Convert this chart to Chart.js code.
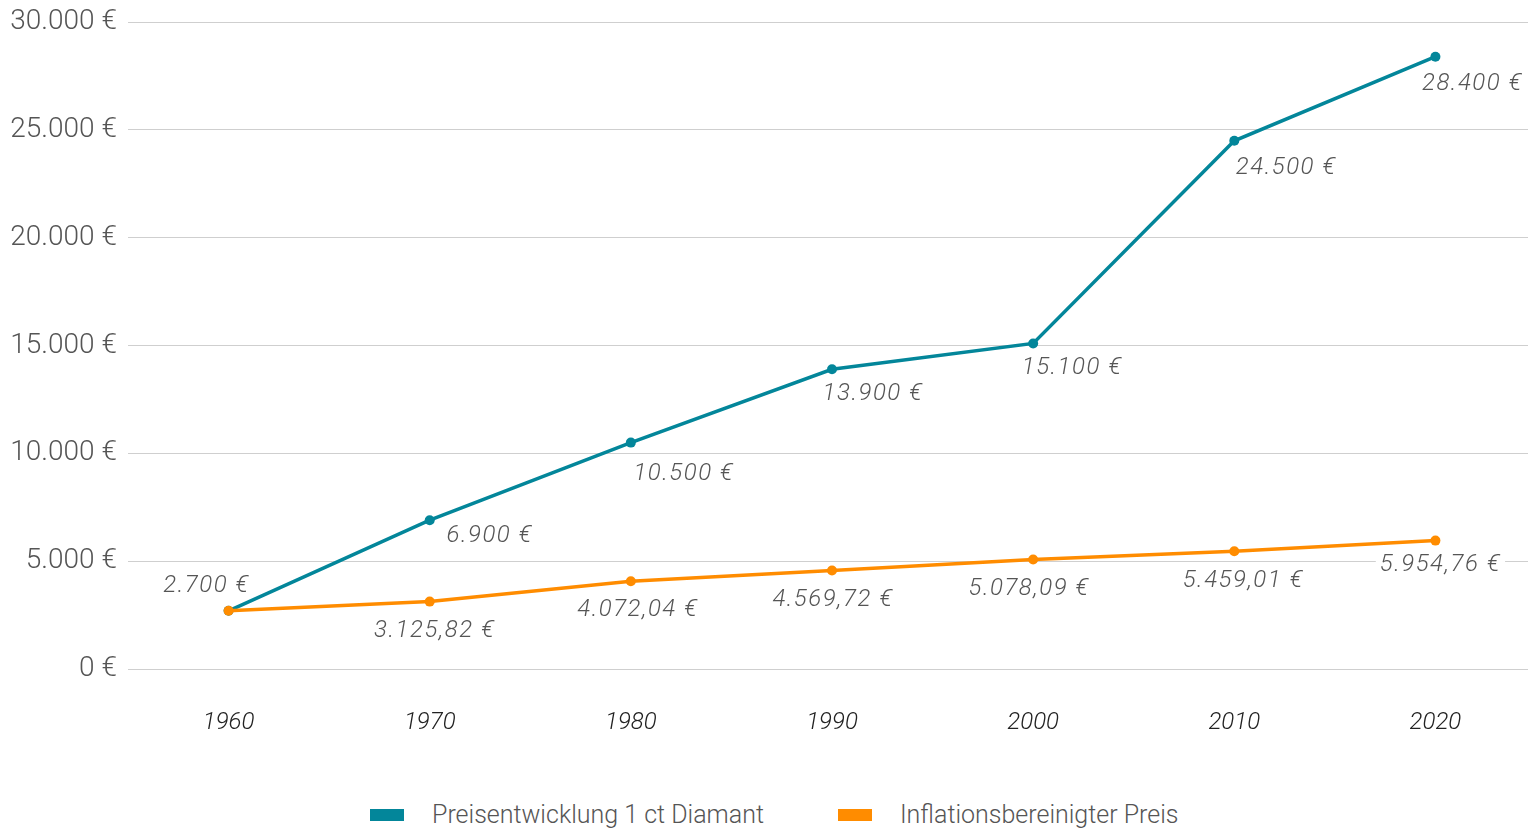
<!DOCTYPE html>
<html lang="de">
<head>
<meta charset="utf-8">
<title>Preisentwicklung Diamant</title>
<script src="https://cdn.jsdelivr.net/npm/chart.js@4/dist/chart.umd.min.js"></script>
<style>
    html, body {
        margin: 0;
        padding: 0;
        background: #fff;
        overflow: hidden;
    }
    .wrap {
        position: relative;
        width: 1528px;
        height: 830px;
        overflow: hidden;
    }
    #priceChart {
        position: absolute;
        left: 0;
        top: 0;
    }
    .legend {
        position: absolute;
        top: 800px;
        left: 370px;
        display: flex;
        align-items: center;
        font-family: "Roboto", sans-serif;
        font-weight: 300;
        font-size: 25px;
        color: #555;
        white-space: nowrap;
    }
    .legend .box {
        display: inline-block;
        width: 34px;
        height: 12px;
        margin-right: 28px;
    }
    .legend .item {
        display: flex;
        align-items: center;
        margin-right: 74px;
    }
</style>
</head>
<body>
<div class="wrap">
    <!-- die Zeichenfläche reicht rechts etwas über den Bildrand hinaus -->
    <canvas id="priceChart" width="1541" height="760"></canvas>
    <div class="legend" id="legend"></div>
</div>
<script>
// Daten
const years = ['1960', '1970', '1980', '1990', '2000', '2010', '2020'];
const diamondPrice = [2700, 6900, 10500, 13900, 15100, 24500, 28400];
const inflationPrice = [2700, 3125.82, 4072.04, 4569.72, 5078.09, 5459.01, 5954.76];
const diamondLabels = ['2.700 €', '6.900 €', '10.500 €', '13.900 €', '15.100 €', '24.500 €', '28.400 €'];
const inflationLabels = [null, '3.125,82 €', '4.072,04 €', '4.569,72 €', '5.078,09 €', '5.459,01 €', '5.954,76 €'];
const yTicks = [0, 5000, 10000, 15000, 20000, 25000, 30000];
const seriesNames = ['Preisentwicklung 1 ct Diamant', 'Inflationsbereinigter Preis'];

const TEAL = '#03869a';
const ORANGE = '#ff8c00';

// Beschriftungen der Punkte (Versatz relativ zum Punkt, Mitte des Textes)
const labelOffsets = [
    { dx: [-22, 60, 53, 41, 39, 52, 37], dy: [-26, 15, 30, 24, 24, 26, 26] },
    { dx: [0, 5, 7, 1, -4, 9, 5], dy: [0, 28, 28, 29, 28, 29, 23] }
];

const pointLabelPlugin = {
    id: 'pointLabels',
    afterDatasetsDraw(chart) {
        const ctx = chart.ctx;
        ctx.save();
        ctx.font = 'italic 300 24px Roboto, sans-serif';
        ctx.letterSpacing = '1.5px';
        ctx.textAlign = 'center';
        ctx.textBaseline = 'middle';
        chart.data.datasets.forEach((ds, di) => {
            const meta = chart.getDatasetMeta(di);
            meta.data.forEach((pt, i) => {
                const text = ds.pointLabels[i];
                if (!text) return;
                const x = pt.x + labelOffsets[di].dx[i];
                const y = pt.y + labelOffsets[di].dy[i];
                const w = ctx.measureText(text).width;
                // weißer Hintergrund unterbricht die Gitterlinie
                ctx.fillStyle = '#fff';
                ctx.fillRect(x - w / 2 - 4, y - 12, w + 8, 24);
                ctx.fillStyle = '#555';
                ctx.fillText(text, x, y + 1);
            });
        });
        ctx.restore();
    }
};

const ctx = document.getElementById('priceChart').getContext('2d');
const priceChart = new Chart(ctx, {
    type: 'line',
    data: {
        labels: years,
        datasets: [
            {
                label: seriesNames[0],
                data: diamondPrice,
                pointLabels: diamondLabels,
                borderColor: TEAL,
                backgroundColor: TEAL,
                borderWidth: 3.5,
                pointRadius: 5,
                pointBorderWidth: 0,
                tension: 0,
                order: 1
            },
            {
                label: seriesNames[1],
                data: inflationPrice,
                pointLabels: inflationLabels,
                borderColor: ORANGE,
                backgroundColor: ORANGE,
                borderWidth: 3.5,
                pointRadius: 5,
                pointBorderWidth: 0,
                tension: 0,
                order: 0
            }
        ]
    },
    plugins: [pointLabelPlugin],
    options: {
        responsive: false,
        animation: false,
        layout: {
            padding: { top: 0, right: 0, bottom: 0, left: 0 }
        },
        scales: {
            x: {
                offset: true,
                grid: { display: false },
                border: { display: false },
                ticks: {
                    padding: 32,
                    color: '#222',
                    font: { family: 'Roboto', size: 24, style: 'italic', weight: 300 }
                },
                afterFit(scale) {
                    scale.height = 91;
                }
            },
            y: {
                min: 0,
                max: 30000,
                afterBuildTicks(scale) {
                    scale.ticks = yTicks.map(v => ({ value: v }));
                },
                grid: {
                    color: '#cfcfcf',
                    lineWidth: 1,
                    drawTicks: false
                },
                border: { display: false },
                ticks: {
                    padding: 11,
                    color: '#555',
                    // kleine Zeilenhöhe, damit die Zeichenfläche oben bei ~22px beginnt
                    font: { family: 'Roboto', size: 28, weight: 300, lineHeight: 0.8 },
                    callback: function(value) {
                        return value.toLocaleString('de-DE') + ' €';
                    }
                },
                afterFit(scale) {
                    scale.width = 128;
                }
            }
        },
        plugins: {
            legend: { display: false },
            tooltip: { enabled: false }
        }
    }
});

// Legende als HTML
const legendEl = document.getElementById('legend');
[TEAL, ORANGE].forEach((color, i) => {
    const item = document.createElement('span');
    item.className = 'item';
    const box = document.createElement('span');
    box.className = 'box';
    box.style.background = color;
    item.appendChild(box);
    item.appendChild(document.createTextNode(seriesNames[i]));
    legendEl.appendChild(item);
});
</script>
</body>
</html>
